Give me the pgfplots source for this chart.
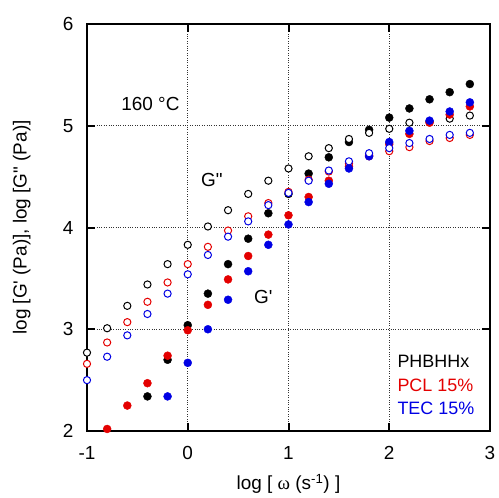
\documentclass[border=0pt]{standalone}
\usepackage{pgfplots}
\pgfplotsset{compat=1.18}
\usepackage{fontspec}
\setmainfont{Liberation Sans}
\newfontfamily\seriffont{Liberation Serif}
\definecolor{myred}{RGB}{228,0,0}
\definecolor{myblue}{RGB}{0,0,228}
\newcommand{\sq}{\textquotesingle}
\newcommand{\dq}{\textquotedbl}
\begin{document}
\fontsize{19}{22}\selectfont
\begin{tikzpicture}
\useasboundingbox (-87bp,-67bp) rectangle (412bp,431bp);
\begin{axis}[
  at={(0,0)}, anchor=south west,
  scale only axis, width=403bp, height=407bp,
  xmin=-1, xmax=3, ymin=2, ymax=6,
  xtick={-1,0,1,2,3}, ytick={2,3,4,5,6},
  clip=false,
  grid=major,
  major grid style={dotted, line width=0.6bp, black!80},
  axis line style={line width=1.5bp},
  tick style={line width=2bp, black},
  major tick length=8bp,
  tick align=inside,
  /pgf/number format/assume math mode=true,
  ticklabel style={font=\fontsize{19}{22}\selectfont},
  xticklabel style={yshift=-9bp},
  yticklabel style={xshift=-7bp},
  xlabel={log [ {\seriffont ω} (s\textsuperscript{-1}) ]},
  ylabel={log [G\sq{} (Pa)], log [G\dq{} (Pa)]},
  label style={font=\fontsize{19}{22}\selectfont},
  xlabel style={at={(axis description cs:0.5,0)}, anchor=north, yshift=-37bp},
  ylabel style={at={(axis description cs:0,0.5)}, anchor=south, yshift=50bp},
]
% PHBHHx G'
\addplot[only marks, mark=*, mark size=4bp, draw=black, fill=black] coordinates {
(-0.4,2.34) (-0.2,2.70) (0,3.04) (0.2,3.35) (0.4,3.64) (0.6,3.89) (0.8,4.14) (1.0,4.33) (1.2,4.53) (1.4,4.69) (1.6,4.84) (1.8,4.96) (2.0,5.08) (2.2,5.17) (2.4,5.26) (2.6,5.33) (2.8,5.41)};
% PHBHHx G''
\addplot[only marks, mark=*, mark size=3.6bp, draw=black, fill=white, line width=1bp] coordinates {
(-1,2.77) (-0.8,3.01) (-0.6,3.23) (-0.4,3.44) (-0.2,3.64) (0,3.83) (0.2,4.01) (0.4,4.17) (0.6,4.33) (0.8,4.46) (1.0,4.58) (1.2,4.70) (1.4,4.78) (1.6,4.87) (1.8,4.93) (2.0,4.97) (2.2,5.03) (2.4,5.04) (2.6,5.07) (2.8,5.10)};
% PCL G'
\addplot[only marks, mark=*, mark size=4bp, draw=myred, fill=myred] coordinates {
(-0.8,2.02) (-0.6,2.25) (-0.4,2.47) (-0.2,2.74) (0,2.99) (0.2,3.24) (0.4,3.49) (0.6,3.72) (0.8,3.93) (1.0,4.12) (1.2,4.30) (1.4,4.46) (1.6,4.60) (1.8,4.71) (2.0,4.82) (2.2,4.92) (2.4,5.03) (2.6,5.11) (2.8,5.19)};
% PCL G''
\addplot[only marks, mark=*, mark size=3.6bp, draw=myred, fill=white, line width=1bp] coordinates {
(-1,2.66) (-0.8,2.87) (-0.6,3.07) (-0.4,3.27) (-0.2,3.46) (0,3.64) (0.2,3.81) (0.4,3.97) (0.6,4.11) (0.8,4.24) (1.0,4.35) (1.2,4.47) (1.4,4.55) (1.6,4.63) (1.8,4.70) (2.0,4.75) (2.2,4.79) (2.4,4.85) (2.6,4.88) (2.8,4.91)};
% TEC G'
\addplot[only marks, mark=*, mark size=4bp, draw=myblue, fill=myblue] coordinates {
(-0.2,2.34) (0,2.67) (0.2,3.00) (0.4,3.29) (0.6,3.57) (0.8,3.83) (1.0,4.03) (1.2,4.25) (1.4,4.43) (1.6,4.58) (1.8,4.70) (2.0,4.84) (2.2,4.95) (2.4,5.05) (2.6,5.14) (2.8,5.23)};
% TEC G''
\addplot[only marks, mark=*, mark size=3.6bp, draw=myblue, fill=white, line width=1bp] coordinates {
(-1,2.50) (-0.8,2.73) (-0.6,2.94) (-0.4,3.15) (-0.2,3.35) (0,3.54) (0.2,3.73) (0.4,3.91) (0.6,4.06) (0.8,4.22) (1.0,4.34) (1.2,4.46) (1.4,4.56) (1.6,4.65) (1.8,4.73) (2.0,4.78) (2.2,4.83) (2.4,4.87) (2.6,4.91) (2.8,4.93)};
\node[font=\fontsize{19}{22}\selectfont] at (axis cs:-0.37,5.21) {160 °C};
\node[font=\fontsize{19}{22}\selectfont] at (axis cs:0.24,4.47) {G\dq};
\node[font=\fontsize{19}{22}\selectfont] at (axis cs:0.75,3.32) {G\sq};
\node[font=\fontsize{18}{22}\selectfont, anchor=west, inner sep=0pt, text=black] at (axis cs:2.08,2.68) {PHBHHx};
\node[font=\fontsize{18}{22}\selectfont, anchor=west, inner sep=0pt, text=myred] at (axis cs:2.08,2.45) {PCL 15\%};
\node[font=\fontsize{18}{22}\selectfont, anchor=west, inner sep=0pt, text=myblue] at (axis cs:2.08,2.22) {TEC 15\%};
\end{axis}
\end{tikzpicture}
\end{document}
